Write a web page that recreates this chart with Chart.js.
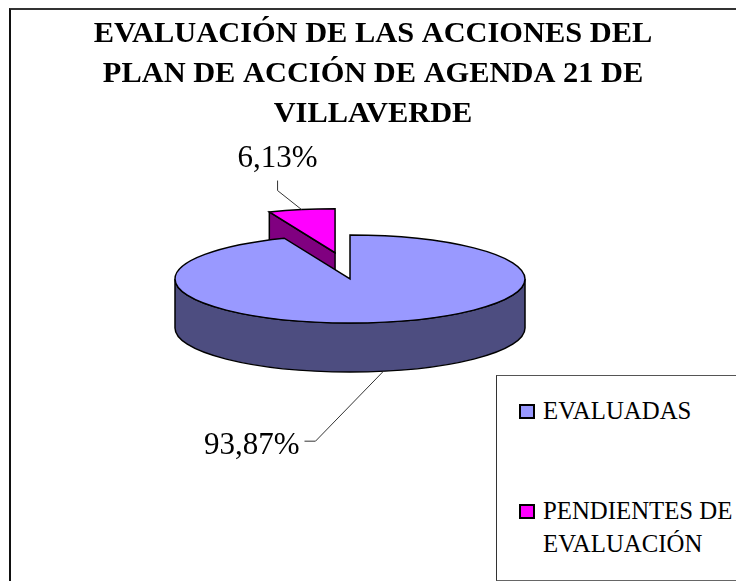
<!DOCTYPE html>
<html>
<head>
<meta charset="utf-8">
<title>Evaluación de las acciones</title>
<script src="https://cdn.jsdelivr.net/npm/chart.js@4/dist/chart.umd.min.js"></script>
<style>
  html, body { margin: 0; background: #fff; }
  #wrap { position: relative; width: 736px; height: 581px; overflow: hidden; }
  #frame { position: absolute; left: 9px; top: 8px; width: 727px; height: 571px;
    border-top: 2px solid #333; border-left: 2px solid #111; border-bottom: 1px solid #666; }
  #legend { position: absolute; left: 496px; top: 375px; width: 240px; height: 204px; background: #fff;
    border-top: 1px solid #555; border-left: 1px solid #333; border-bottom: 1px solid #666;
    font: 24.8px "Liberation Serif", serif; color: #000; }
  #legend div { position: absolute; left: 46px; line-height: 33px; white-space: pre-line; }
  #legend i { position: absolute; left: -24px; top: 10px; width: 12px; height: 11px; border: 2px solid #000; }
</style>
</head>
<body>
<div id="wrap">
  <canvas id="pie" width="736" height="581"></canvas>
  <div id="frame"></div>
  <div id="legend"></div>
</div>
<script>
const categories = ['EVALUADAS', 'PENDIENTES DE\nEVALUACIÓN'];
const percentages = [93.87, 6.13];
const topColors = ['#9999FF', '#FF00FF'];
const sideColors = ['#4D4D80', '#800080'];
const titleLines = [
  'EVALUACIÓN DE LAS ACCIONES DEL',
  'PLAN DE ACCIÓN DE AGENDA 21 DE',
  'VILLAVERDE'
];

// how the flat pie gets laid on its side
const pieX = 350, pieY = 279, squash = 44 / 175, depth = 49;
const explode = [0, 78];
const sliceLift = [0, -7];
const labelFont = '31px "Liberation Serif", serif';

// where the arc's centre ends up on screen
function tip(arc, i) {
  const mid = (arc.startAngle + arc.endAngle) / 2;
  return {
    x: pieX + Math.cos(mid) * explode[i],
    y: pieY + sliceLift[i] + Math.sin(mid) * explode[i] * squash,
    mid: mid
  };
}

function place(ctx, arc, i) {
  const t = tip(arc, i);
  ctx.translate(t.x, t.y);
  ctx.scale(1, squash);
  ctx.translate(-arc.x, -arc.y);
}

function outline(ctx, arc, i) {
  const t = tip(arc, i);
  const rx = arc.outerRadius, ry = rx * squash;
  ctx.beginPath();
  ctx.moveTo(t.x, t.y);
  ctx.ellipse(t.x, t.y, rx, ry, 0, arc.startAngle, arc.endAngle);
  ctx.closePath();
  ctx.stroke();
}

function drawSide(ctx, arc, i) {
  const t = tip(arc, i);
  const rx = arc.outerRadius, ry = rx * squash;
  ctx.fillStyle = sideColors[i];
  ctx.beginPath();
  if (i === 0) {
    // front rim of the big slice
    ctx.ellipse(t.x, t.y, rx, ry, 0, Math.PI, 0, true);
    ctx.lineTo(t.x + rx, t.y + depth);
    ctx.ellipse(t.x, t.y + depth, rx, ry, 0, 0, Math.PI);
    ctx.closePath();
  } else {
    // cut face of the pulled out slice
    const ex = t.x + Math.cos(arc.startAngle) * rx;
    const ey = t.y + Math.sin(arc.startAngle) * ry;
    ctx.moveTo(t.x, t.y);
    ctx.lineTo(ex, ey);
    ctx.lineTo(ex, ey + depth);
    ctx.lineTo(t.x, t.y + depth);
    ctx.closePath();
  }
  ctx.fill();
  ctx.stroke();
}

const pie3d = {
  id: 'pie3d',
  beforeDatasetDraw() {
    return false;
  },
  afterDatasetsDraw(chart) {
    const ctx = chart.ctx;
    const arcs = chart.getDatasetMeta(0).data;
    ctx.save();
    ctx.strokeStyle = '#000';
    ctx.lineWidth = 1.5;
    drawSide(ctx, arcs[1], 1);
    drawSide(ctx, arcs[0], 0);
    arcs.forEach((arc, i) => {
      ctx.save();
      place(ctx, arc, i);
      arc.draw(ctx, chart.chartArea);
      ctx.restore();
      outline(ctx, arc, i);
    });

    // value labels with leader lines
    ctx.lineWidth = 1;
    ctx.strokeStyle = '#333';
    ctx.fillStyle = '#000';
    ctx.font = labelFont;
    ctx.textBaseline = 'middle';
    const a = tip(arcs[0], 0), b = tip(arcs[1], 1);
    const r = arcs[0].outerRadius;
    const ax = a.x + Math.cos(a.mid) * r, ay = a.y + Math.sin(a.mid) * r * squash + depth;
    ctx.beginPath();
    ctx.moveTo(ax, ay);
    ctx.lineTo(ax - 68, ay + 70);
    ctx.lineTo(ax - 79, ay + 70);
    ctx.stroke();
    ctx.textAlign = 'right';
    ctx.fillText(percentages[0].toFixed(2).replace('.', ',') + '%', ax - 84, ay + 75);

    const bx = b.x + Math.cos(b.mid) * r, by = b.y + Math.sin(b.mid) * r * squash;
    ctx.beginPath();
    ctx.moveTo(bx, by);
    ctx.lineTo(bx - 24, by - 19);
    ctx.lineTo(bx - 24, by - 29);
    ctx.stroke();
    ctx.textAlign = 'center';
    ctx.fillText(percentages[1].toFixed(2).replace('.', ',') + '%', bx - 24, by - 51);
    ctx.restore();
  }
};

new Chart(document.getElementById('pie'), {
  type: 'pie',
  data: {
    labels: categories,
    datasets: [{
      data: percentages,
      backgroundColor: topColors,
      borderWidth: 0,
      clip: false
    }]
  },
  options: {
    responsive: false,
    animation: false,
    radius: 175,
    layout: { padding: { left: 10, top: 14 } },
    plugins: {
      legend: { display: false },
      tooltip: { enabled: false },
      title: {
        display: true,
        text: titleLines,
        color: '#000',
        font: { family: '"Liberation Serif", serif', size: 30.4, weight: 'bold', lineHeight: 1.32 },
        padding: 0
      }
    }
  },
  plugins: [pie3d]
});

const legend = document.getElementById('legend');
const legendTops = [18, 118];
categories.forEach((name, i) => {
  const row = document.createElement('div');
  row.style.top = legendTops[i] + 'px';
  row.textContent = name;
  const box = document.createElement('i');
  box.style.background = topColors[i];
  row.appendChild(box);
  legend.appendChild(row);
});
</script>
</body>
</html>
